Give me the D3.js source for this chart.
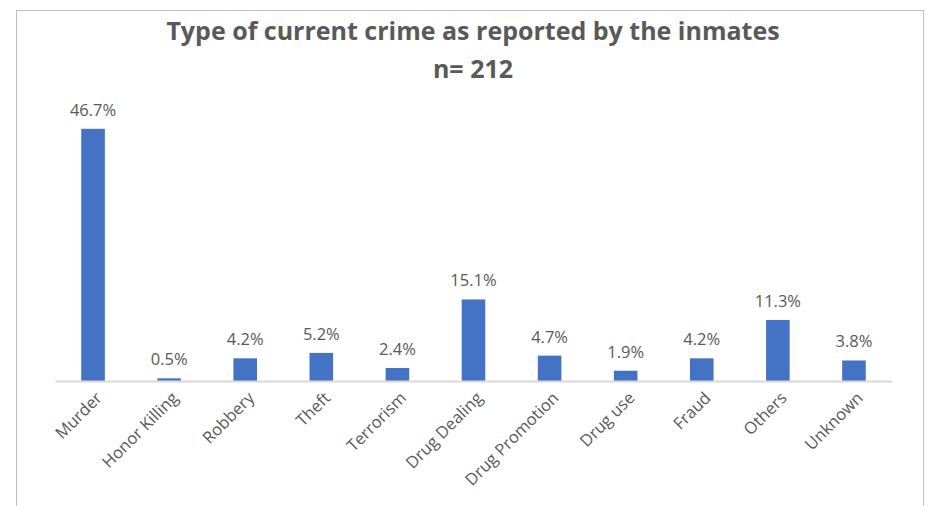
<!DOCTYPE html>
<html>
<head>
<meta charset="utf-8">
<script src="https://cdn.jsdelivr.net/npm/d3@7"></script>
<style>
  body { margin: 0; background: #fff; }
  text { font-family: "Open Sans", "Noto Sans", sans-serif; }
</style>
</head>
<body>
<div id="chart"></div>
<script>
// data
var categories = ["Murder", "Honor Killing", "Robbery", "Theft", "Terrorism", "Drug Dealing",
                  "Drug Promotion", "Drug use", "Fraud", "Others", "Unknown"];
var percents = [46.7, 0.5, 4.2, 5.2, 2.4, 15.1, 4.7, 1.9, 4.2, 11.3, 3.8];
var titleLines = ["Type of current crime as reported by the inmates", "n= 212"];

var width = 933,
    height = 506;

var x = d3.scaleBand().domain(categories).range([55, 892]).paddingInner(0.69).paddingOuter(0.345);
var y = d3.scaleLinear().domain([0, 50]).range([381, 111]);

var svg = d3.select("#chart").append("svg")
    .attr("width", width)
    .attr("height", height);

// chart border
svg.append("rect")
    .attr("x", 16.5).attr("y", 10.5)
    .attr("width", 907).attr("height", 520)
    .attr("fill", "none")
    .attr("stroke", "#bfbfbf");

// title
svg.append("g").selectAll("text")
    .data(titleLines)
  .enter().append("text")
    .attr("x", 473)
    .attr("y", function(d, i) { return 40 + i * 38; })
    .attr("text-anchor", "middle")
    .attr("fill", "#595959")
    .style("font-size", "25px")
    .style("font-weight", "bold")
    .text(function(d) { return d; });

// bars
svg.append("g").selectAll("rect")
    .data(percents)
  .enter().append("rect")
    .attr("x", function(d, i) { return x(categories[i]); })
    .attr("y", function(d) { return y(d); })
    .attr("width", x.bandwidth())
    .attr("height", function(d) { return y(0) - y(d); })
    .attr("fill", "#4472c4");

// value labels
svg.append("g").selectAll("text")
    .data(percents)
  .enter().append("text")
    .attr("x", function(d, i) { return x(categories[i]) + x.bandwidth() / 2; })
    .attr("y", function(d) { return y(d) - 13; })
    .attr("text-anchor", "middle")
    .attr("fill", "#595959")
    .style("font-size", "16.5px")
    .text(function(d) { return d.toFixed(1) + "%"; });

// x axis
var xAxis = svg.append("g")
    .attr("transform", "translate(0," + y(0) + ")")
    .call(d3.axisBottom(x).tickSize(0).tickPadding(0));

xAxis.select(".domain").attr("stroke", "#d9d9d9").attr("stroke-width", 2);

xAxis.selectAll(".tick text")
    .attr("fill", "#595959")
    .style("font-size", "16.5px")
    .attr("text-anchor", "end")
    .attr("dy", null)
    .attr("transform", "translate(10,18) rotate(-45)");
</script>
</body>
</html>
